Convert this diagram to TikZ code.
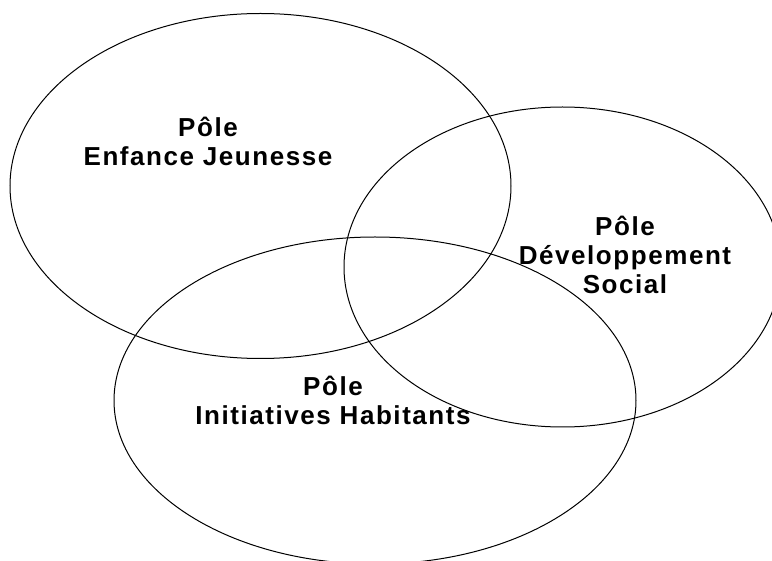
\documentclass[tikz,border=0pt]{standalone}
\usepackage{fontspec}
\newfontfamily\polefont{Liberation Sans}[LetterSpace=6]
\usetikzlibrary{shapes.geometric,positioning}

\begin{document}
\begin{tikzpicture}[
    x=1pt, y=-1pt,
    pole/.style={draw, ellipse, line width=1pt, inner sep=0pt},
    pole label/.style={align=center, anchor=base, font=\polefont\fontsize{26}{29}\selectfont\bfseries}
]
    \useasboundingbox (0,0) rectangle (772,561);
    \clip (0,0) rectangle (772,561);
    \node [pole, minimum width=501pt, minimum height=345pt] (enfance) at (260.5,186) {};
    \node [pole, minimum width=437pt, minimum height=320pt] (social) at (562.5,267) {};
    \node [pole, minimum width=522pt, minimum height=327pt] (habitants) at (375,400.5) {};
    \node [pole label] (enfance label) at (208,166) {Pôle\\Enfance Jeunesse};
    \node [pole label] (social label) at (625,294) {Pôle\\Développement\\Social};
    \node [pole label] (habitants label) at (333,425) {Pôle\\Initiatives Habitants};
\end{tikzpicture}
\end{document}
